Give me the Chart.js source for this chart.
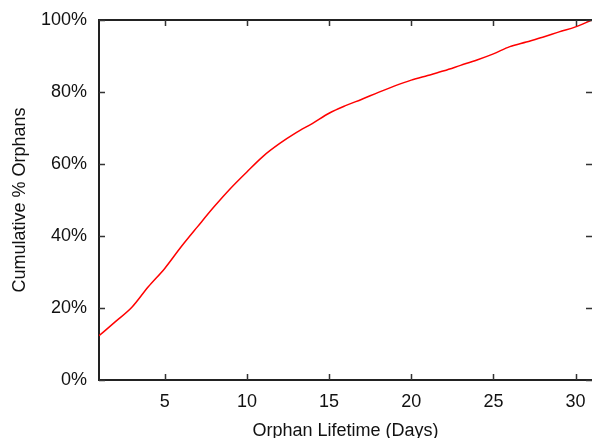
<!DOCTYPE html>
<html>
<head>
<meta charset="utf-8">
<script src="https://cdn.jsdelivr.net/npm/chart.js@4/dist/chart.umd.min.js"></script>
<style>
body{margin:0;background:#fff;}
</style>
</head>
<body>
<canvas id="grafOrfaos" width="592" height="438"></canvas>
<script>
// dados
const dias=[1,2,3,4,5,6,7,8,9,10,11,12,13,14,15,16,17,18,19,20,21,22,23,24,25,26,27,28,29,30,31];
const cumulativo=[12.3,16.2,20.2,25.9,31.0,37.0,42.6,48.1,53.2,57.8,62.2,65.7,68.7,71.3,74.1,76.2,78.0,79.9,81.7,83.3,84.6,85.9,87.4,88.9,90.6,92.6,93.9,95.2,96.7,98.1,100];
const xTicks=[5,10,15,20,25,30];
const yTicks=[0,20,40,60,80,100];

const fonte="'Liberation Sans', Arial, Helvetica, sans-serif";

// moldura de topo + ticks para dentro nos 4 lados, estilo gnuplot
const ticksDentro={
id:"ticksDentro",
afterDraw(chart){
const ctx=chart.ctx;
const a=chart.chartArea;
const sx=chart.scales.x, sy=chart.scales.y;
ctx.save();
ctx.strokeStyle="#222";
ctx.lineWidth=2;
ctx.beginPath();
ctx.moveTo(a.left-1,a.top);ctx.lineTo(a.right,a.top);
ctx.stroke();
ctx.strokeStyle="#333";
ctx.lineWidth=1.5;
ctx.beginPath();
xTicks.forEach(v=>{
const px=Math.round(sx.getPixelForValue(v))+0.5;
ctx.moveTo(px,a.bottom);ctx.lineTo(px,a.bottom-6);
ctx.moveTo(px,a.top);ctx.lineTo(px,a.top+6);
});
yTicks.forEach(v=>{
const py=Math.round(sy.getPixelForValue(v))+0.5;
ctx.moveTo(a.left,py);ctx.lineTo(a.left+6,py);
ctx.moveTo(a.right,py);ctx.lineTo(a.right-6,py);
});
ctx.stroke();
ctx.restore();
}
};

new Chart(document.getElementById("grafOrfaos"),{
type:"line",
data:{
datasets:[{
label:"Orphans",
data:dias.map((d,i)=>({x:d,y:cumulativo[i]})),
borderColor:"#ff0000",
borderWidth:1.5,
pointRadius:0,
tension:0.3,
cubicInterpolationMode:"monotone",
fill:false
}]
},
options:{
responsive:false,
animation:false,
layout:{padding:{top:20,right:0,left:0,bottom:0}},
plugins:{legend:{display:false},tooltip:{enabled:false}},
scales:{
x:{
type:"linear",
min:1,max:31,
afterFit(s){s.height=58;s.paddingLeft=0;s.paddingRight=0;},
afterBuildTicks(s){s.ticks=xTicks.map(v=>({value:v}));},
grid:{display:true,drawOnChartArea:false,drawTicks:false,color:"#222"},
border:{display:true,color:"#222",width:2},
ticks:{padding:11,color:"#111",font:{family:fonte,size:18},maxRotation:0},
title:{display:true,text:"Orphan Lifetime (Days)",color:"#111",font:{family:fonte,size:18,lineHeight:0.8},padding:{top:0,bottom:0}}
},
y:{
min:0,max:100,
afterFit(s){s.width=99;s.paddingTop=0;s.paddingBottom=0;},
afterBuildTicks(s){s.ticks=yTicks.map(v=>({value:v}));},
grid:{display:true,drawOnChartArea:false,drawTicks:false,color:"#222"},
border:{display:true,color:"#222",width:2},
ticks:{padding:12,color:"#111",font:{family:fonte,size:18},callback:v=>v+"%"},
title:{display:true,text:"Cumulative % Orphans",color:"#111",font:{family:fonte,size:18,lineHeight:1},padding:{top:11,bottom:0}}
}
}
},
plugins:[ticksDentro]
});
</script>
</body>
</html>
